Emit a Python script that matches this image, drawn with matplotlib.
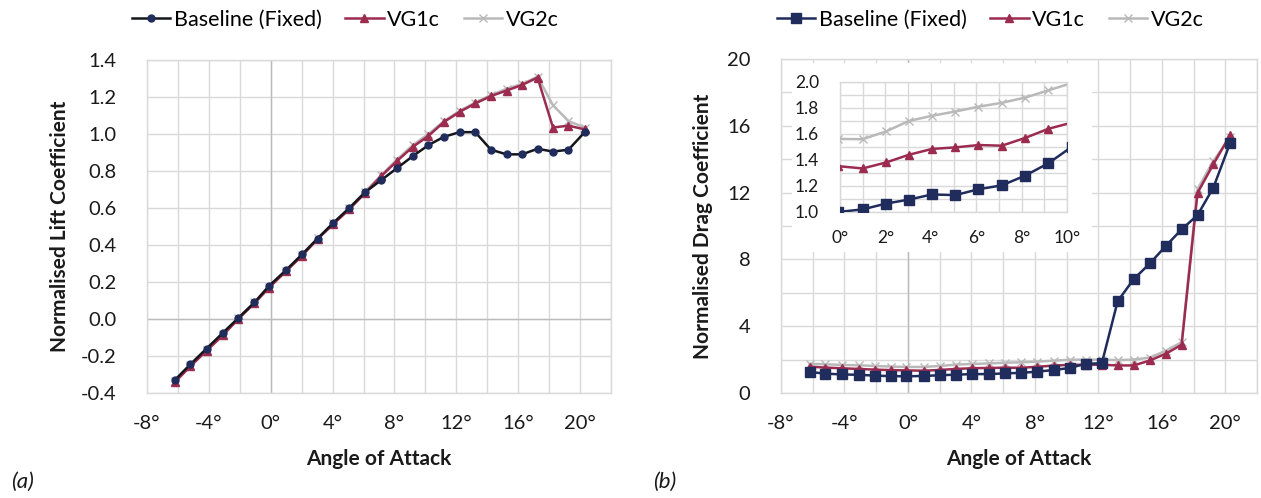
import matplotlib
matplotlib.use("Agg")
import matplotlib.pyplot as plt
from matplotlib.lines import Line2D
from matplotlib.ticker import MultipleLocator, FixedLocator

plt.rcParams['font.family'] = ['Lato', 'DejaVu Sans']

# ---------------- data ----------------
angles = [-6.2, -5.2, -4.15, -3.1, -2.1, -1.05, -0.1, 1.0, 2.03, 3.03, 4.05, 5.08,
          6.1, 7.13, 8.16, 9.18, 10.2, 11.2, 12.22, 13.22, 14.24, 15.25, 16.25,
          17.25, 18.25, 19.25, 20.3]

lift_baseline = [-0.33, -0.245, -0.16, -0.075, 0.005, 0.09, 0.18, 0.265, 0.35, 0.435,
                 0.52, 0.60, 0.685, 0.75, 0.815, 0.88, 0.94, 0.985, 1.01, 1.01, 0.915,
                 0.89, 0.89, 0.92, 0.905, 0.915, 1.01]
lift_vg1c = [-0.342, -0.256, -0.172, -0.089, 0.0, 0.085, 0.17, 0.259, 0.342, 0.432,
             0.513, 0.593, 0.681, 0.771, 0.854, 0.93, 0.99, 1.065, 1.12, 1.165, 1.205,
             1.235, 1.265, 1.305, 1.035, 1.045, 1.025]
lift_vg2c = [-0.335, -0.25, -0.165, -0.082, 0.005, 0.09, 0.175, 0.262, 0.347, 0.437,
             0.518, 0.60, 0.688, 0.777, 0.862, 0.94, 1.0, 1.07, 1.125, 1.17, 1.21,
             1.245, 1.27, 1.31, 1.155, 1.07, 1.035]

drag_baseline = [1.26, 1.16, 1.11, 1.09, 1.04, 1.01, 1.0, 1.02, 1.065, 1.095, 1.135,
                 1.13, 1.175, 1.205, 1.28, 1.375, 1.50, 1.75, 1.78, 5.5, 6.83, 7.76,
                 8.8, 9.8, 10.65, 12.3, 14.95]
drag_vg1c = [1.58, 1.52, 1.48, 1.44, 1.40, 1.37, 1.353, 1.335, 1.381, 1.44, 1.485,
             1.497, 1.515, 1.51, 1.57, 1.64, 1.687, 1.69, 1.69, 1.65, 1.65, 1.95, 2.35,
             2.89, 11.98, 13.7, 15.43]
drag_vg2c = [1.75, 1.72, 1.68, 1.66, 1.62, 1.58, 1.562, 1.56, 1.62, 1.70, 1.74, 1.773,
             1.81, 1.84, 1.88, 1.936, 1.991, 2.0, 2.0, 1.97, 2.0, 2.12, 2.53, 3.04,
             12.2, 13.9, 15.3]

series_names = ["Baseline (Fixed)", "VG1c", "VG2c"]
x_ticks = [-8, -4, 0, 4, 8, 12, 16, 20]
lift_ticks = [-0.4, -0.2, 0.0, 0.2, 0.4, 0.6, 0.8, 1.0, 1.2, 1.4]
drag_ticks = [0, 4, 8, 12, 16, 20]
inset_x_ticks = [0, 2, 4, 6, 8, 10]
inset_y_ticks = [1.0, 1.2, 1.4, 1.6, 1.8, 2.0]

# ---------------- style ----------------
NAVY = '#1f2c5c'
BLACK = '#15161c'
MAROON = '#9c2b50'
GREY = '#b9b9b9'
GRID = '#d9d9d9'
AXDARK = '#bcbcbc'
TXT = '#1a1a1a'

TICK_FS = 14.5
TITLE_FS = 15
LEG_FS = 15.5
INSET_FS = 12.5

W, H = 1261, 498
fig = plt.figure(figsize=(W / 100, H / 100), dpi=100)


def px_axes(x0, y0, x1, y1):
    return [x0 / W, 1 - y1 / H, (x1 - x0) / W, (y1 - y0) / H]


def deg(v):
    return f"{int(v)}°"


def style_axes(ax, fs=TICK_FS):
    for s in ax.spines.values():
        s.set_color(GRID)
        s.set_linewidth(1.0)
    ax.tick_params(which='both', length=0, labelsize=fs, colors=TXT)
    ax.grid(True, which='both', color=GRID, linewidth=1.0)
    ax.set_axisbelow(True)


lw = 1.8

# ---------------- (a) lift ----------------
axL = fig.add_axes(px_axes(147, 60, 611, 393))
style_axes(axL)
axL.set_xlim(-8, 22)
axL.set_ylim(-0.4, 1.4)
axL.xaxis.set_major_locator(FixedLocator(x_ticks))
axL.xaxis.set_minor_locator(MultipleLocator(2))
axL.yaxis.set_major_locator(FixedLocator(lift_ticks))
axL.set_xticklabels([deg(v) for v in x_ticks])
axL.set_yticklabels([f"{v:.1f}" for v in lift_ticks])
axL.tick_params(axis='x', pad=16)
axL.tick_params(axis='y', pad=22)
axL.axvline(0, color=AXDARK, lw=1.0, zorder=1)
axL.axhline(0, color=AXDARK, lw=1.0, zorder=1)

axL.plot(angles, lift_vg2c, color=GREY, lw=lw, marker='x', ms=6, mew=1.0, zorder=3)
axL.plot(angles, lift_vg1c, color=MAROON, lw=lw, marker='^', ms=6, zorder=4)
axL.plot(angles, lift_baseline, color=BLACK, lw=lw, marker='o', ms=5,
         mfc=NAVY, mec=NAVY, zorder=5)
axL.set_xlabel("Angle of Attack", fontsize=TITLE_FS, fontweight='bold', color=TXT,
               labelpad=12)
axL.set_ylabel("Normalised Lift Coefficient", fontsize=TITLE_FS, fontweight='bold',
               color=TXT, labelpad=8)

legL = [Line2D([], [], color=BLACK, lw=lw, marker='o', ms=5, mfc=NAVY, mec=NAVY),
        Line2D([], [], color=MAROON, lw=lw, marker='^', ms=6),
        Line2D([], [], color=GREY, lw=lw, marker='x', ms=6, mew=1.0)]
fig.legend(legL, series_names, loc='center', bbox_to_anchor=(345 / W, 1 - 20 / H),
           ncol=3, frameon=False, fontsize=LEG_FS, handlelength=1.8, handletextpad=0.15,
           columnspacing=1.1, borderpad=0)

# ---------------- (b) drag ----------------
axR = fig.add_axes(px_axes(781, 59, 1257, 393))
style_axes(axR)
axR.set_xlim(-8, 22)
axR.set_ylim(0, 20)
axR.xaxis.set_major_locator(FixedLocator(x_ticks))
axR.xaxis.set_minor_locator(MultipleLocator(2))
axR.yaxis.set_major_locator(FixedLocator(drag_ticks))
axR.yaxis.set_minor_locator(MultipleLocator(2))
axR.set_xticklabels([deg(v) for v in x_ticks])
axR.set_yticklabels([str(v) for v in drag_ticks])
axR.tick_params(axis='x', pad=16)
axR.tick_params(axis='y', pad=22)
axR.axvline(0, color=AXDARK, lw=1.0, zorder=1)

axR.plot(angles, drag_vg2c, color=GREY, lw=lw, marker='x', ms=6, mew=1.0, zorder=3)
axR.plot(angles, drag_vg1c, color=MAROON, lw=lw, marker='^', ms=6, zorder=4)
axR.plot(angles, drag_baseline, color=NAVY, lw=lw, marker='s', ms=6.5, zorder=5)
axR.set_xlabel("Angle of Attack", fontsize=TITLE_FS, fontweight='bold', color=TXT,
               labelpad=12)
axR.set_ylabel("Normalised Drag Coefficient", fontsize=TITLE_FS, fontweight='bold',
               color=TXT, labelpad=10)

legR = [Line2D([], [], color=NAVY, lw=lw, marker='s', ms=6.5),
        Line2D([], [], color=MAROON, lw=lw, marker='^', ms=6),
        Line2D([], [], color=GREY, lw=lw, marker='x', ms=6, mew=1.0)]
fig.legend(legR, series_names, loc='center', bbox_to_anchor=(990 / W, 1 - 20 / H),
           ncol=3, frameon=False, fontsize=LEG_FS, handlelength=1.8, handletextpad=0.15,
           columnspacing=1.1, borderpad=0)

# inset white box
box = fig.add_axes(px_axes(792, 63, 1092, 252))
box.set_facecolor('white')
box.set_xticks([])
box.set_yticks([])
for s in box.spines.values():
    s.set_visible(False)
box.set_zorder(5)

axI = fig.add_axes(px_axes(840, 82, 1067, 212))
axI.set_zorder(6)
style_axes(axI, fs=INSET_FS)
axI.set_xlim(0, 10)
axI.set_ylim(1.0, 2.0)
axI.xaxis.set_major_locator(FixedLocator(inset_x_ticks))
axI.xaxis.set_minor_locator(MultipleLocator(1))
axI.yaxis.set_major_locator(FixedLocator(inset_y_ticks))
axI.yaxis.set_minor_locator(MultipleLocator(0.1))
axI.set_xticklabels([deg(v) for v in inset_x_ticks])
axI.set_yticklabels([f"{v:.1f}" for v in inset_y_ticks])
axI.tick_params(axis='x', pad=13)
axI.tick_params(axis='y', pad=15)
axI.plot(angles, drag_vg2c, color=GREY, lw=lw, marker='x', ms=6, mew=1.0, zorder=3)
axI.plot(angles, drag_vg1c, color=MAROON, lw=lw, marker='^', ms=6, zorder=4)
axI.plot(angles, drag_baseline, color=NAVY, lw=lw, marker='s', ms=6.5, zorder=5)

# panel labels
fig.text(22 / W, 1 - 482 / H, "(a)", fontsize=16, style='italic', color=TXT,
         ha='center', va='center')
fig.text(665 / W, 1 - 482 / H, "(b)", fontsize=16, style='italic', color=TXT,
         ha='center', va='center')

fig.savefig("out.png", dpi=100, facecolor='white')
